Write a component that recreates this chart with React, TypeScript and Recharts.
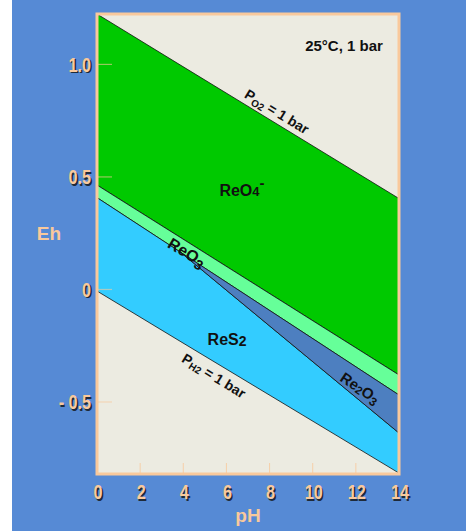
import React from 'react';
import { ComposedChart, Area, XAxis, YAxis, ReferenceArea, ReferenceDot } from 'recharts';

// pH points where boundaries were read
const pH = [0, 3.85, 14];
// Eh of each boundary line at those pH values
const o2Line = [1.224, 0.998, 0.404];
const reo4Bottom = [0.464, 0.232, -0.38];
const reo3Bottom = [0.408, 0.167, -0.469];
const re2o3Bottom: (number | null)[] = [null, 0.167, -0.638];
const h2Line = [-0.007, -0.23, -0.816];

const xTicks = [0, 2, 4, 6, 8, 10, 12, 14];
const yTicks = [1.0, 0.5, 0, -0.5];
const yTickLabels = ['1.0', '0.5', '0', '- 0.5'];

const rows = pH.map((p, i) => ({
  pH: p,
  reo4: [reo4Bottom[i], o2Line[i]],
  reo3: [reo3Bottom[i], reo4Bottom[i]],
  re2o3: re2o3Bottom[i] == null ? null : [re2o3Bottom[i] as number, reo3Bottom[i]],
  res2: [h2Line[i], re2o3Bottom[i] == null ? reo3Bottom[i] : (re2o3Bottom[i] as number)],
}));

const BLUE = '#568ad5';
const PEACH = '#f9c99c';
const BEIGE = '#ecebe1';
const SANS = '"Liberation Sans", Arial, Helvetica, sans-serif';

const ShadowText = ({ x, y, anchor, children, size }: any) => (
  <g transform={`translate(${x} ${y}) scale(0.77 1)`}>
    <text x={1.8} y={1.5} textAnchor={anchor} fontFamily={SANS} fontWeight="bold" fontSize={size} fill="#1e2a3a">{children}</text>
    <text x={0} y={0} textAnchor={anchor} fontFamily={SANS} fontWeight="bold" fontSize={size} fill={PEACH}>{children}</text>
  </g>
);

const XTick = (props: any) => {
  const { x, y, payload } = props;
  const v = payload.value;
  const inner = v !== 0 && v !== 14;
  return (
    <g>
      {inner && <line x1={x} x2={x} y1={y - 11} y2={y - 1} stroke={PEACH} strokeWidth={1} opacity={0.8} />}
      <ShadowText x={x + 1} y={y + 25} anchor="middle" size={21}>{String(v)}</ShadowText>
    </g>
  );
};

const YTick = (props: any) => {
  const { x, y, payload } = props;
  const idx = yTicks.indexOf(payload.value);
  const label = idx >= 0 ? yTickLabels[idx] : String(payload.value);
  return (
    <g>
      <line x1={x + 1} x2={x + 15} y1={y} y2={y} stroke={PEACH} strokeWidth={1.2} opacity={0.6} />
      <ShadowText x={x - 6} y={y + 7.5} anchor="end" size={21}>{label}</ShadowText>
    </g>
  );
};

const label = (angle: number, size: number, content: React.ReactNode, anchor: string = 'middle') => (p: any) => (
  <text
    x={p.cx}
    y={p.cy}
    dy="0.35em"
    transform={angle ? `rotate(${angle} ${p.cx} ${p.cy})` : undefined}
    textAnchor={anchor}
    fontFamily={SANS}
    fontWeight="bold"
    fontSize={size}
    fill="#111"
  >
    {content}
  </text>
);

export default function App() {
  return (
    <div style={{ position: 'absolute', left: 0, top: 0, width: 466, height: 531, background: '#fff', overflow: 'hidden' }}>
      <div style={{ position: 'absolute', left: 12, top: 0, width: 454, height: 531, background: BLUE }} />
      <div style={{ position: 'absolute', left: 0, top: 0 }}>
        <ComposedChart width={466} height={531} data={rows} margin={{ top: 14, right: 67, bottom: 12, left: 12 }}>
          <ReferenceArea x1={0} x2={14} y1={-0.82} y2={1.224} fill={BEIGE} fillOpacity={1} stroke="none" ifOverflow="hidden" />
          <XAxis
            type="number"
            dataKey="pH"
            domain={[0, 14]}
            ticks={xTicks}
            allowDataOverflow
            height={45}
            axisLine={false}
            tickLine={false}
            tickSize={0}
            tickMargin={0}
            tick={<XTick />}
            label={{
              content: (lp: any) => {
                const vb = lp.viewBox;
                return (
                  <text x={vb.x + vb.width / 2} y={vb.y + 48} textAnchor="middle" fontFamily={SANS} fontWeight="bold" fontSize={19} fill={PEACH}>pH</text>
                );
              },
            }}
          />
          <YAxis
            type="number"
            domain={[-0.82, 1.224]}
            ticks={yTicks}
            allowDataOverflow
            width={85}
            axisLine={false}
            tickLine={false}
            tickSize={0}
            tickMargin={0}
            tick={<YTick />}
            label={{
              content: (lp: any) => {
                const vb = lp.viewBox;
                return (
                  <text x={49} y={vb.y + vb.height / 2 - 4} textAnchor="middle" fontFamily={SANS} fontWeight="bold" fontSize={19} fill={PEACH}>Eh</text>
                );
              },
            }}
          />
          <Area type="linear" dataKey="reo4" fill="#00c900" fillOpacity={1} stroke="#111" strokeWidth={0.8} isAnimationActive={false} />
          <Area type="linear" dataKey="reo3" fill="#66ff99" fillOpacity={1} stroke="#111" strokeWidth={0.8} isAnimationActive={false} />
          <Area type="linear" dataKey="res2" fill="#33ccff" fillOpacity={1} stroke="#111" strokeWidth={0.8} isAnimationActive={false} />
          <Area type="linear" dataKey="re2o3" fill="#4d7fc0" fillOpacity={1} stroke="#111" strokeWidth={0.8} isAnimationActive={false} />
          <ReferenceArea x1={0} x2={14} y1={-0.82} y2={1.224} fill="none" stroke={PEACH} strokeWidth={3} ifOverflow="visible" />

          <ReferenceDot x={11.45} y={1.085} r={0} ifOverflow="visible" shape={label(0, 15, '25°C, 1 bar')} />
          <ReferenceDot x={8.34} y={0.79} r={0} ifOverflow="visible" shape={label(31.5, 14, <>
            <tspan>P</tspan><tspan fontSize={10} dy={3}>O2</tspan><tspan dy={-3}> = 1 bar</tspan>
          </>)} />
          <ReferenceDot x={6.72} y={0.44} r={0} ifOverflow="visible" shape={label(0, 16, <>
            <tspan>ReO</tspan><tspan fontSize={13}>4</tspan><tspan fontSize={15} dy={-8}>-</tspan>
          </>)} />
          <ReferenceDot x={4.17} y={0.165} r={0} ifOverflow="visible" shape={label(31, 16, <>
            <tspan>ReO</tspan><tspan fontSize={14} dy={4}>3</tspan>
          </>)} />
          <ReferenceDot x={6.03} y={-0.22} r={0} ifOverflow="visible" shape={label(0, 16, <>
            <tspan>ReS</tspan><tspan fontSize={14} dy={1}>2</tspan>
          </>)} />
          <ReferenceDot x={12.19} y={-0.438} r={0} ifOverflow="visible" shape={label(34, 15, <>
            <tspan>Re</tspan><tspan fontSize={11} dy={1}>2</tspan><tspan dy={-1}>O</tspan><tspan fontSize={12} dy={3}>3</tspan>
          </>)} />
          <ReferenceDot x={5.42} y={-0.384} r={0} ifOverflow="visible" shape={label(31.5, 14, <>
            <tspan>P</tspan><tspan fontSize={10} dy={2}>H2</tspan><tspan dy={-2}> = 1 bar</tspan>
          </>)} />
        </ComposedChart>
      </div>
    </div>
  );
}
